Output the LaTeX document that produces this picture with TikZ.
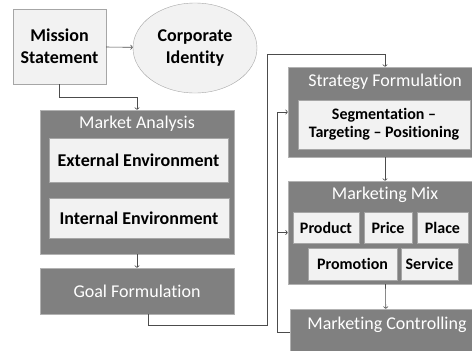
\documentclass[tikz,border=0pt]{standalone}
\usepackage{fontspec}
\setmainfont{Carlito}[Ligatures={TeX,NoCommon}]
\usetikzlibrary{arrows.meta,shapes.geometric}

\begin{document}
\begin{tikzpicture}[x=1pt,y=-1pt,
  font=\fontsize{18}{22}\selectfont,
  lightbox/.style={draw=black!35,fill=black!5,inner sep=0pt,align=center,font=\fontsize{18}{22}\selectfont\bfseries},
  mixbox/.style={lightbox,font=\fontsize{16}{18}\selectfont\bfseries},
  darkbox/.style={draw=black!30,fill=black!50,inner sep=0pt},
  heading/.style={text=white,inner sep=0pt},
  link/.style={draw=black!70,line width=0.6pt,-{To[length=2.5pt,width=5pt]}}]
\clip (0,0) rectangle (472,351);
\fill[white] (0,0) rectangle (472,351);

% left column
\node[lightbox,minimum width=93,minimum height=75] (mission) at (59.5,46.5) {Mission\\Statement};
\node[lightbox,ellipse,minimum width=124,minimum height=90] (identity) at (195,48) {Corporate\\Identity};
\node[darkbox,minimum width=194,minimum height=144] (market) at (137,182) {};
\node[heading] (marketT) at (137,124) {Market Analysis};
\node[lightbox,minimum width=179,minimum height=44] (external) at (138.5,160) {External Environment};
\node[lightbox,minimum width=180,minimum height=40] (internal) at (139,218) {Internal Environment};
\node[darkbox,text=white,minimum width=194,minimum height=46] (goal) at (137,291) {Goal Formulation};

% right column
\node[darkbox,minimum width=194,minimum height=90] (strategy) at (385,112) {};
\node[heading] (strategyT) at (385,82) {Strategy Formulation};
\node[mixbox,minimum width=172,minimum height=49] (stp) at (384,124.5) {Segmentation --\\Targeting -- Positioning};
\node[darkbox,minimum width=194,minimum height=103] (mix) at (385,232.5) {};
\node[heading] (mixT) at (385,195) {Marketing Mix};
\node[mixbox,minimum width=66,minimum height=31] (product) at (326,227.5) {Product};
\node[mixbox,minimum width=48,minimum height=31] (price) at (388,227.5) {Price};
\node[mixbox,minimum width=51,minimum height=31] (place) at (442.5,227.5) {Place};
\node[mixbox,minimum width=89,minimum height=32] (promotion) at (352.5,264) {Promotion};
\node[mixbox,minimum width=57,minimum height=32] (service) at (429.5,264) {Service};
\node[darkbox,minimum width=192,minimum height=52] (control) at (386,335) {};
\node[heading] (controlT) at (387,325) {Marketing Controlling};

% routing points
\coordinate (turn) at (267,54);
\coordinate (loop) at (277,112);

\draw[link] (mission) -- (identity);
\draw[link] (mission.south) -- ++(0,13) -| (market.north);
\draw[link] (market) -- (goal);
\draw[link] ([xshift=11pt]goal.south) -- ++(0,11) -| (turn) -| (strategy.north);
\draw[link] (strategy) -- (mix);
\draw[link] (mix) -- (control);
\draw[link] ([yshift=3pt]control.west) -| (loop) -- (strategy.west);
\draw[link] (loop |- mix.west) -- (mix.west);
\end{tikzpicture}
\end{document}
